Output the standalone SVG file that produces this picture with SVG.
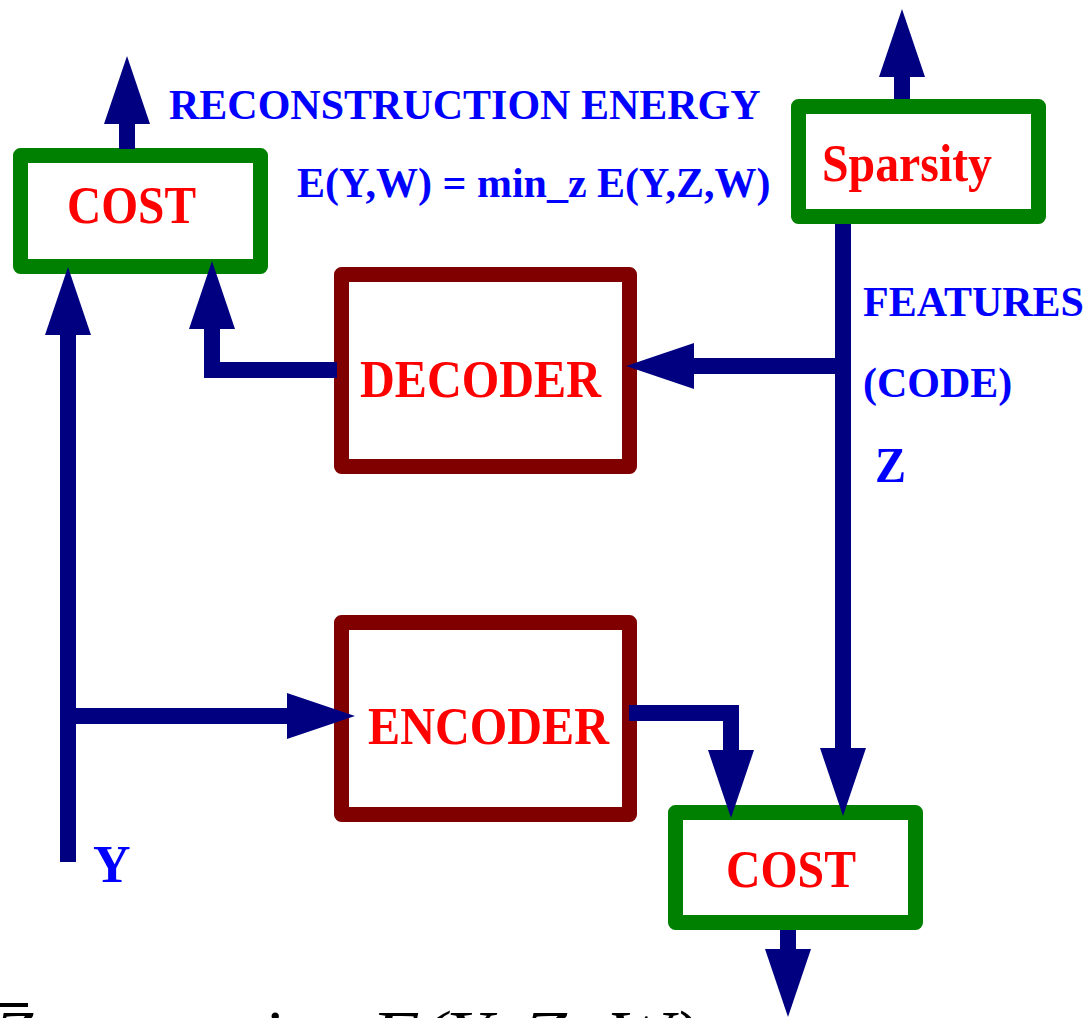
<svg xmlns="http://www.w3.org/2000/svg" width="1092" height="1018" viewBox="0 0 1092 1018">
<style>
.box{fill:#fff;stroke-width:15;stroke-linejoin:round}
.cost{stroke:#008000}
.mod{stroke:#800000}
.lbl{font-family:"Liberation Serif","Times New Roman",serif;font-weight:bold;fill:#ff0000;font-size:52px}
.note{font-family:"Liberation Serif","Times New Roman",serif;font-weight:bold;fill:#0000ff;font-size:42px}
.wire{fill:none;stroke:#000080;stroke-width:16;stroke-linejoin:miter;stroke-linecap:butt;marker-end:url(#ah)}
.math{font-family:"Liberation Serif","Times New Roman",serif;font-size:70px;fill:#000}
</style>
<defs>
<marker id="ah" markerUnits="userSpaceOnUse" markerWidth="70" markerHeight="46" refX="1" refY="23" orient="auto" viewBox="0 0 70 46">
<path d="M0,0 L68,23 L0,46 Z" fill="#000080"/>
</marker>
</defs>
<rect width="1092" height="1018" fill="#fff"/>

<g id="cost-top">
<rect class="box cost" x="20.5" y="155.5" width="240" height="111"/>
<text class="lbl" x="67" y="223" textLength="129" lengthAdjust="spacingAndGlyphs">COST</text>
</g>
<g id="sparsity">
<rect class="box cost" x="798.5" y="106.5" width="240" height="110"/>
<text class="lbl" x="822" y="181" textLength="170" lengthAdjust="spacingAndGlyphs">Sparsity</text>
</g>
<g id="decoder">
<rect class="box mod" x="341.5" y="274.5" width="288" height="192"/>
<text class="lbl" x="360" y="397" textLength="241" lengthAdjust="spacingAndGlyphs">DECODER</text>
</g>
<g id="encoder">
<rect class="box mod" x="341.5" y="622.5" width="288" height="192"/>
<text class="lbl" x="368" y="744" textLength="241" lengthAdjust="spacingAndGlyphs">ENCODER</text>
</g>
<g id="cost-bottom">
<rect class="box cost" x="675.5" y="812.5" width="240" height="110"/>
<text class="lbl" x="726" y="887" textLength="130" lengthAdjust="spacingAndGlyphs">COST</text>
</g>

<g id="connectors">
<path class="wire" d="M127,149 L127,123"/>
<path class="wire" d="M902,99 L902,76"/>
<path class="wire" d="M788,930 L788,950"/>
<path class="wire" d="M68,862 L68,334"/>
<path class="wire" d="M68,716 L288,716"/>
<path class="wire" d="M337,370 L212,370 L212,328"/>
<path class="wire" d="M843,224 L843,749"/>
<path class="wire" d="M843,366 L693,366"/>
<path class="wire" d="M629,713 L731,713 L731,751"/>
</g>

<g id="labels">
<text class="note" x="169" y="119">RECONSTRUCTION ENERGY</text>
<text class="note" x="297" y="197">E(Y,W) = min_z E(Y,Z,W)</text>
<text class="note" x="863" y="316">FEATURES</text>
<text class="note" x="863" y="397">(CODE)</text>
<text class="note" x="875" y="482" style="font-size:50px" textLength="31" lengthAdjust="spacingAndGlyphs">Z</text>
<text class="note" x="93" y="882" style="font-size:52px">Y</text>
</g>

<g id="formula">
<rect x="0" y="1003" width="28" height="4" fill="#000"/>
<text class="math" x="-6" y="1059" font-style="italic">Z</text>
<text class="math" x="52" y="1059">=</text>
<text class="math" x="106" y="1059">arg min</text>
<text class="math" x="326" y="1078" style="font-size:46px" font-style="italic">z</text>
<text class="math" x="371" y="1059" font-style="italic" textLength="328" lengthAdjust="spacingAndGlyphs">E(Y, Z, W)</text>
</g>
</svg>
